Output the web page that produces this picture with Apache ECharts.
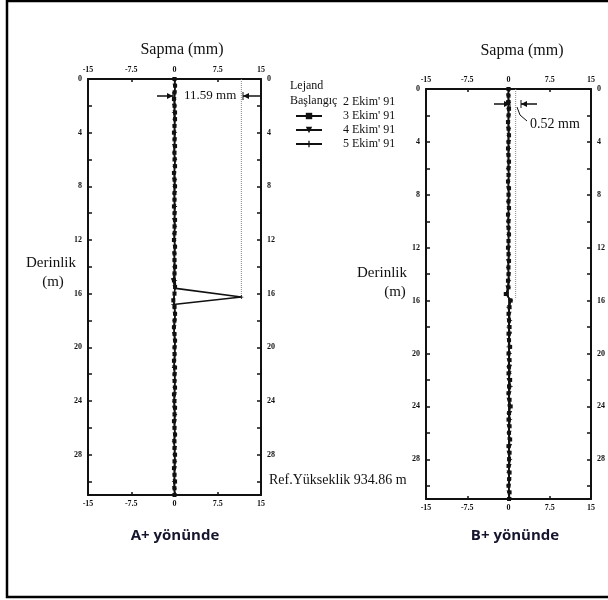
<!DOCTYPE html>
<html>
<head>
<meta charset="utf-8">
<script src="https://cdn.jsdelivr.net/npm/echarts@6/dist/echarts.min.js"></script>
<style>
  html, body { margin: 0; padding: 0; background: #fff; }
  #chart { width: 608px; height: 600px; }
</style>
</head>
<body>
<div id="chart"></div>
<script>
// derinlik (m), her 0.5 m'de okuma
const DEPTH = [0,0.5,1,1.5,2,2.5,3,3.5,4,4.5,5,5.5,6,6.5,7,7.5,8,8.5,9,9.5,
  10,10.5,11,11.5,12,12.5,13,13.5,14,14.5,15,15.5,16,16.5,17,17.5,18,18.5,19,19.5,
  20,20.5,21,21.5,22,22.5,23,23.5,24,24.5,25,25.5,26,26.5,27,27.5,28,28.5,29,29.5,
  30,30.5,31];
// 5 Ekim A+ okumasi, kayma bolgesinde derinlikler biraz farkli
const A5_DEPTH = [0,0.5,1,1.5,2,2.5,3,3.5,4,4.5,5,5.5,6,6.5,7,7.5,8,8.5,9,9.5,
  10,10.5,11,11.5,12,12.5,13,13.5,14,14.5,15,15.6,16.25,16.8,17,17.5,18,18.5,19,19.5,
  20,20.5,21,21.5,22,22.5,23,23.5,24,24.5,25,25.5,26,26.5,27,27.5,28,28.5,29,29.5,
  30,30.5,31];

const BASE_DEPTH = [0, 31];
const BASE_VAL = [0, 0];

// A+ yonunde sapma (mm)
const A3 = [0,0.1,0,-0.1,0,0.1,0.1,0,-0.1,0,
  0.1,0,0,0.1,-0.1,0,0.1,0,0,-0.1,
  0,0.1,0,0,-0.1,0.1,0,0,0.1,0,
  -0.1,0.1,0,-0.2,0,0.1,0,-0.1,0,0.1,
  0,0,-0.1,0.1,0,0,0.1,-0.1,0,0.1,
  0,-0.1,0,0.1,0,0,0.1,0,-0.1,0,
  0.1,0,0];
const A4 = [0,0,0.1,0,-0.1,0,0.1,0,0,0.1,
  -0.1,0,0.1,0,0,-0.1,0,0.1,0,0,
  0.1,-0.1,0,0.1,0,0,-0.1,0,0.1,0,
  -0.3,0,0,-0.2,0,0,0.1,0,-0.1,0,
  0.1,0,0,-0.1,0.1,0,0,0.1,0,-0.1,
  0,0.1,0,0,-0.1,0.1,0,0,0.1,0,
  0,-0.1,0];
const A5 = [0,0.1,0,0,0.1,-0.1,0,0,0.1,0,
  0,-0.1,0.1,0,0,0.1,0,-0.1,0,0.1,
  0,0,0.1,-0.1,0,0.1,0,0,-0.1,0,
  0.1,0.2,11.59,-0.2,0,0.1,0,-0.1,0,0.1,
  0,0.1,0,-0.1,0,0.1,0,0,-0.1,0,
  0.1,0,0,0.1,-0.1,0,0,0.1,0,0,
  -0.1,0,0.1];

// B+ yonunde sapma (mm)
const B3 = [0,0,-0.1,0.1,0,-0.1,0,0.1,0,-0.1,
  0,0.1,0,0,-0.1,0.1,0,0,0.1,-0.1,
  0,0,0.1,0,-0.1,0,0.1,0,0,-0.1,
  0,-0.5,0.4,0.2,0,0.1,0.2,0,0.1,0.3,
  0,0.2,0.1,0,0.3,0.1,0,0.2,0.4,0.1,
  0,0.2,0.1,0.3,0,0.2,0.1,0,0.2,0.1,
  0,0.2,0.1];
const B4 = [0,-0.1,0,0,0.1,0,-0.1,0,0.1,0,
  -0.1,0,0.1,0,0,-0.1,0,0.1,0,0,
  0.1,-0.1,0,0,0.1,0,-0.1,0,0.1,0,
  -0.2,-0.3,0.3,0.1,0.2,0,0.1,0.3,0,0.2,
  0.1,0,0.3,0.2,0,0.1,0.2,0,0.1,0.3,
  0.1,0,0.2,0.1,0.3,0,0.1,0.2,0,0.2,
  0.1,0,0.2];
const B5 = [0,0,0.1,-0.1,0,0,0.1,0,-0.1,0.1,
  0,0,-0.1,0.1,0,0,0.1,-0.1,0,0,
  -0.1,0.1,0,0,0,0.1,0,-0.1,0,0.1,
  0,-0.4,0.4,0,0.1,0.3,0,0.2,0.1,0,
  0.2,0.1,0,0.2,0.1,0.4,0,0.1,0.2,0,
  0.3,0.1,0,0.2,0,0.1,0.3,0.1,0,0.2,
  0,0.1,0.2];

// en buyuk sapma cizgileri
const A_REF_VAL = [11.59, 11.59];
const A_REF_DEPTH = [0, 16.25];
const B_REF_VAL = [1.3, 1.3];
const B_REF_DEPTH = [0, 15.9];

const NAMES = ["2 Ekim' 91", "3 Ekim' 91", "4 Ekim' 91", "5 Ekim' 91"];
const X_TICKS = [-15, -7.5, 0, 7.5, 15];

const SERIF = "'Liberation Serif', 'DejaVu Serif', serif";
const INK = '#111';

function pairs(vals, depths) {
    return vals.map((v, i) => [v, depths[i]]);
}

const chart = echarts.init(document.getElementById('chart'), null, { renderer: 'canvas' });

const tickLabel = { fontFamily: SERIF, fontSize: 8, fontWeight: 'bold', color: INK };

function xAx(grid, pos) {
    return {
        gridIndex: grid, type: 'value', position: pos,
        min: X_TICKS[0], max: X_TICKS[X_TICKS.length - 1], interval: 7.5,
        axisLine: { show: true, onZero: false, lineStyle: { color: INK, width: 2 } },
        axisTick: { show: true, inside: true, length: 3, lineStyle: { color: INK, width: 1.5 } },
        axisLabel: Object.assign({ margin: 5, formatter: v => String(v) }, tickLabel),
        splitLine: { show: false }
    };
}
function yAx(grid, pos) {
    return {
        gridIndex: grid, type: 'value', position: pos, inverse: true,
        min: 0, max: 31, interval: 4,
        axisLine: { show: true, onZero: false, lineStyle: { color: INK, width: 2 } },
        axisTick: { show: true, inside: true, length: 4, lineStyle: { color: INK, width: 1.5 } },
        minorTick: { show: true, splitNumber: 2, length: 4, lineStyle: { color: INK, width: 1.5 } },
        axisLabel: Object.assign({ margin: 6, showMaxLabel: false,
            formatter: v => (v % 4 === 0 ? String(v) : '') }, tickLabel),
        splitLine: { show: false }
    };
}

const PLUS = 'path://M4,0H6V4H10V6H6V10H4V6H0V4H4Z';
const TRI_DOWN = 'path://M0,0L10,0L5,9Z';

function panelSeries(idx, d3, d4, d5, d5Depth, refVal, refDepth) {
    const axes = { xAxisIndex: idx * 2, yAxisIndex: idx * 2 };
    return [
        Object.assign({ name: NAMES[0], type: 'line', data: pairs(BASE_VAL, BASE_DEPTH),
            symbol: 'none', lineStyle: { color: '#333', width: 1 } }, axes),
        Object.assign({ name: NAMES[1], type: 'line', data: pairs(d3, DEPTH),
            symbol: 'rect', symbolSize: 4, itemStyle: { color: INK },
            lineStyle: { color: INK, width: 1.2 } }, axes),
        Object.assign({ name: NAMES[2], type: 'line', data: pairs(d4, DEPTH),
            symbol: TRI_DOWN, symbolSize: 4, itemStyle: { color: INK },
            lineStyle: { color: INK, width: 1.2 } }, axes),
        Object.assign({ name: NAMES[3], type: 'line', data: pairs(d5, d5Depth),
            symbol: PLUS, symbolSize: 4, itemStyle: { color: INK },
            lineStyle: { color: INK, width: 1.6 } }, axes),
        Object.assign({ name: 'ref', type: 'line', data: pairs(refVal, refDepth),
            symbol: 'none', lineStyle: { color: '#888', width: 1, type: [1, 1] } }, axes)
    ];
}

function txt(text, x, y, size, opts) {
    return {
        type: 'text', x: x, y: y, silent: true,
        style: Object.assign({ text: text, font: size + 'px ' + SERIF, fill: INK,
            align: 'left', verticalAlign: 'middle' }, opts || {})
    };
}
function arrow(x1, x2, y) {
    const dir = x2 > x1 ? 1 : -1;
    return [
        { type: 'line', shape: { x1: x1, y1: y, x2: x2, y2: y }, style: { stroke: INK, lineWidth: 1.5 } },
        { type: 'polygon', shape: { points: [[x2, y], [x2 - dir * 6, y - 3], [x2 - dir * 6, y + 3]] },
          style: { fill: INK } },
        { type: 'line', shape: { x1: x2, y1: y - 4, x2: x2, y2: y + 4 }, style: { stroke: INK, lineWidth: 1 } }
    ];
}

const sansBold = "bold 15px 'Open Sans', 'Noto Sans', sans-serif";

const option = {
    animation: false,
    backgroundColor: '#fff',
    grid: [
        { left: 88, top: 79, width: 173, height: 416 },
        { left: 426, top: 89, width: 171, height: 410 }
    ],
    xAxis: [xAx(0, 'top'), xAx(0, 'bottom'), xAx(1, 'top'), xAx(1, 'bottom')],
    yAxis: [yAx(0, 'left'), yAx(0, 'right'), yAx(1, 'left'), yAx(1, 'right')],
    legend: {
        orient: 'vertical', left: 290, top: 91,
        itemWidth: 26, itemHeight: 8, itemGap: 2,
        textStyle: { fontFamily: SERIF, fontSize: 12, color: INK, padding: [0, 0, 0, 16] },
        selectedMode: false,
        data: [
            { name: NAMES[0], itemStyle: { opacity: 0 }, lineStyle: { opacity: 0 } },
            { name: NAMES[1] }, { name: NAMES[2] }, { name: NAMES[3] }
        ]
    },
    series: [].concat(
        panelSeries(0, A3, A4, A5, A5_DEPTH, A_REF_VAL, A_REF_DEPTH),
        panelSeries(1, B3, B4, B5, DEPTH, B_REF_VAL, B_REF_DEPTH)
    ),
    graphic: [
        { type: 'rect', shape: { x: 7, y: 1, width: 620, height: 596 },
          style: { fill: 'none', stroke: '#000', lineWidth: 2.5 }, silent: true },
        txt('Sapma (mm)', 182, 50, 16, { align: 'center' }),
        txt('Sapma (mm)', 522, 51, 16, { align: 'center' }),
        txt('Derinlik', 51, 263, 15, { align: 'center' }),
        txt('(m)', 53, 282, 15, { align: 'center' }),
        txt('Derinlik', 382, 273, 15, { align: 'center' }),
        txt('(m)', 395, 292, 15, { align: 'center' }),
        txt('Lejand', 290, 86, 12),
        txt('Başlangıç', 290, 101, 12),
        txt('11.59 mm', 184, 96, 13),
        txt('0.52 mm', 530, 124, 14),
        txt('Ref.Yükseklik 934.86 m', 269, 480, 14),
        { type: 'text', x: 175, y: 536, silent: true,
          style: { text: 'A+ yönünde', font: sansBold, fill: '#15152e', align: 'center', verticalAlign: 'middle' } },
        { type: 'text', x: 515, y: 536, silent: true,
          style: { text: 'B+ yönünde', font: sansBold, fill: '#15152e', align: 'center', verticalAlign: 'middle' } },
        { type: 'polyline', shape: { points: [[517, 107], [520, 115], [527, 121]] },
          style: { stroke: INK, lineWidth: 1, fill: 'none' } }
    ].concat(arrow(157, 173, 96), arrow(260, 243, 96), arrow(494, 510, 104), arrow(537, 521, 104))
};

chart.setOption(option);
</script>
</body>
</html>
